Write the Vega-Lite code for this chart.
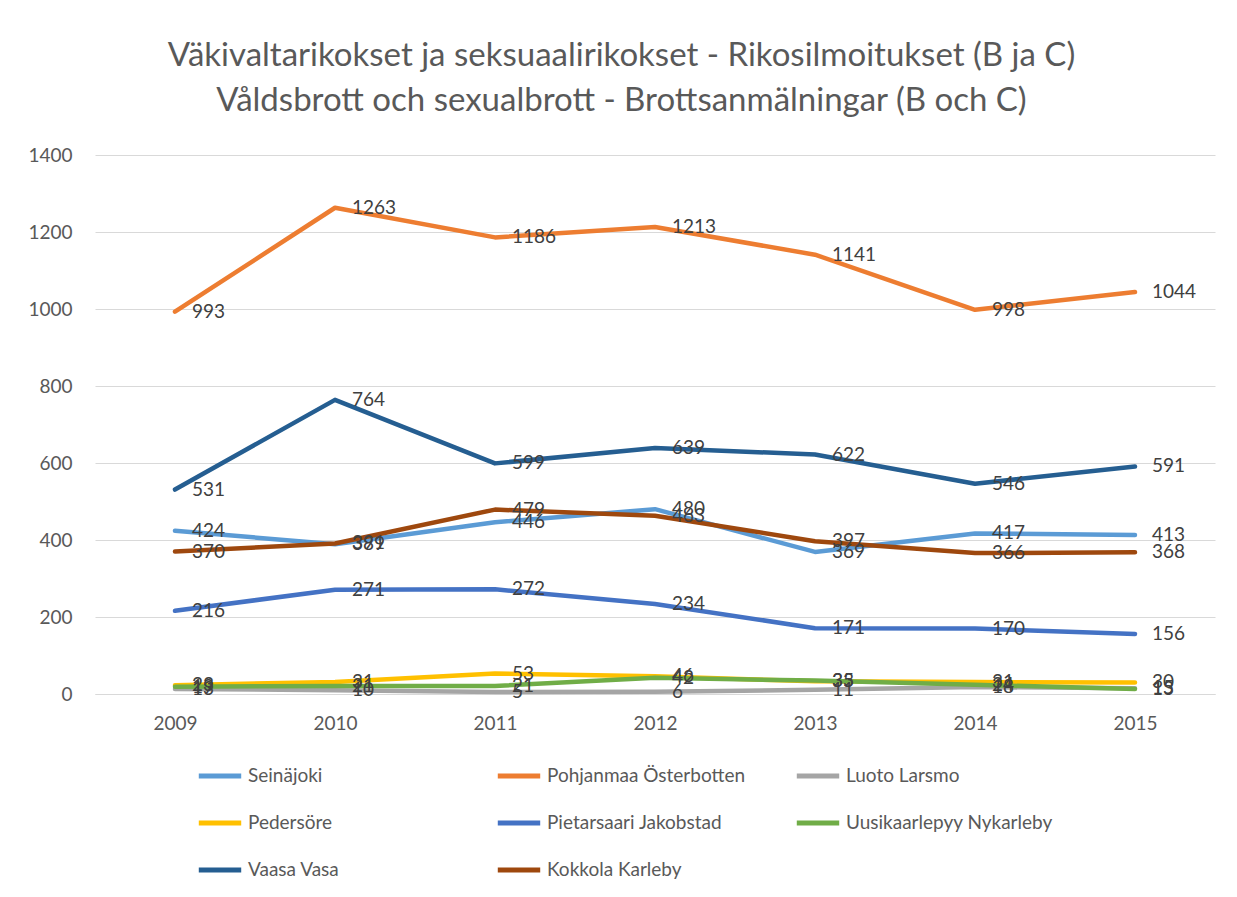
{
  "$schema": "https://vega.github.io/schema/vega-lite/v6.json",
  "autosize": {"type": "none"},
  "width": 1120,
  "height": 539,
  "padding": {"left": 95, "top": 155, "right": 22, "bottom": 203},
  "background": "white",
  "title": {
    "text": ["Väkivaltarikokset ja seksuaalirikokset - Rikosilmoitukset (B ja C)", "Våldsbrott och sexualbrott - Brottsanmälningar (B och C)"],
    "font": "Lato",
    "fontSize": 33,
    "fontWeight": "normal",
    "color": "#595959",
    "lineHeight": 45,
    "anchor": "middle",
    "frame": "bounds",
    "offset": 28
  },
  "config": {
    "view": {"stroke": null},
    "font": "Lato"
  },
  "data": {
    "values": [
      {"year": "2009", "series": "Seinäjoki", "value": 424},
      {"year": "2010", "series": "Seinäjoki", "value": 389},
      {"year": "2011", "series": "Seinäjoki", "value": 446},
      {"year": "2012", "series": "Seinäjoki", "value": 480},
      {"year": "2013", "series": "Seinäjoki", "value": 369},
      {"year": "2014", "series": "Seinäjoki", "value": 417},
      {"year": "2015", "series": "Seinäjoki", "value": 413},
      {"year": "2009", "series": "Pohjanmaa Österbotten", "value": 993},
      {"year": "2010", "series": "Pohjanmaa Österbotten", "value": 1263},
      {"year": "2011", "series": "Pohjanmaa Österbotten", "value": 1186},
      {"year": "2012", "series": "Pohjanmaa Österbotten", "value": 1213},
      {"year": "2013", "series": "Pohjanmaa Österbotten", "value": 1141},
      {"year": "2014", "series": "Pohjanmaa Österbotten", "value": 998},
      {"year": "2015", "series": "Pohjanmaa Österbotten", "value": 1044},
      {"year": "2009", "series": "Luoto Larsmo", "value": 13},
      {"year": "2010", "series": "Luoto Larsmo", "value": 10},
      {"year": "2011", "series": "Luoto Larsmo", "value": 5},
      {"year": "2012", "series": "Luoto Larsmo", "value": 6},
      {"year": "2013", "series": "Luoto Larsmo", "value": 11},
      {"year": "2014", "series": "Luoto Larsmo", "value": 18},
      {"year": "2015", "series": "Luoto Larsmo", "value": 15},
      {"year": "2009", "series": "Pedersöre", "value": 23},
      {"year": "2010", "series": "Pedersöre", "value": 31},
      {"year": "2011", "series": "Pedersöre", "value": 53},
      {"year": "2012", "series": "Pedersöre", "value": 46},
      {"year": "2013", "series": "Pedersöre", "value": 33},
      {"year": "2014", "series": "Pedersöre", "value": 31},
      {"year": "2015", "series": "Pedersöre", "value": 30},
      {"year": "2009", "series": "Pietarsaari Jakobstad", "value": 216},
      {"year": "2010", "series": "Pietarsaari Jakobstad", "value": 271},
      {"year": "2011", "series": "Pietarsaari Jakobstad", "value": 272},
      {"year": "2012", "series": "Pietarsaari Jakobstad", "value": 234},
      {"year": "2013", "series": "Pietarsaari Jakobstad", "value": 171},
      {"year": "2014", "series": "Pietarsaari Jakobstad", "value": 170},
      {"year": "2015", "series": "Pietarsaari Jakobstad", "value": 156},
      {"year": "2009", "series": "Uusikaarlepyy Nykarleby", "value": 19},
      {"year": "2010", "series": "Uusikaarlepyy Nykarleby", "value": 21},
      {"year": "2011", "series": "Uusikaarlepyy Nykarleby", "value": 21},
      {"year": "2012", "series": "Uusikaarlepyy Nykarleby", "value": 42},
      {"year": "2013", "series": "Uusikaarlepyy Nykarleby", "value": 35},
      {"year": "2014", "series": "Uusikaarlepyy Nykarleby", "value": 24},
      {"year": "2015", "series": "Uusikaarlepyy Nykarleby", "value": 13},
      {"year": "2009", "series": "Vaasa Vasa", "value": 531},
      {"year": "2010", "series": "Vaasa Vasa", "value": 764},
      {"year": "2011", "series": "Vaasa Vasa", "value": 599},
      {"year": "2012", "series": "Vaasa Vasa", "value": 639},
      {"year": "2013", "series": "Vaasa Vasa", "value": 622},
      {"year": "2014", "series": "Vaasa Vasa", "value": 546},
      {"year": "2015", "series": "Vaasa Vasa", "value": 591},
      {"year": "2009", "series": "Kokkola Karleby", "value": 370},
      {"year": "2010", "series": "Kokkola Karleby", "value": 391},
      {"year": "2011", "series": "Kokkola Karleby", "value": 479},
      {"year": "2012", "series": "Kokkola Karleby", "value": 463},
      {"year": "2013", "series": "Kokkola Karleby", "value": 397},
      {"year": "2014", "series": "Kokkola Karleby", "value": 366},
      {"year": "2015", "series": "Kokkola Karleby", "value": 368}
    ]
  },
  "encoding": {
    "x": {
      "field": "year",
      "type": "ordinal",
      "scale": {"type": "point", "padding": 0.5},
      "axis": {
        "title": null,
        "labelAngle": 0,
        "labelFontSize": 19,
        "labelColor": "#595959",
        "labelPadding": 20,
        "ticks": false,
        "domainColor": "#d9d9d9",
        "domainWidth": 1,
        "grid": false
      }
    },
    "y": {
      "field": "value",
      "type": "quantitative",
      "scale": {"domain": [0, 1400], "nice": false},
      "axis": {
        "title": null,
        "values": [0, 200, 400, 600, 800, 1000, 1200, 1400],
        "format": "d",
        "labelFontSize": 19,
        "labelColor": "#595959",
        "labelPadding": 23,
        "ticks": false,
        "domain": false,
        "gridColor": "#d9d9d9",
        "gridWidth": 1.2
      }
    }
  },
  "layer": [
    {
      "mark": {"type": "line", "strokeWidth": 4.5, "strokeCap": "round", "strokeJoin": "round"},
      "encoding": {
        "color": {
          "field": "series",
          "type": "nominal",
          "scale": {
            "domain": ["Seinäjoki", "Pohjanmaa Österbotten", "Luoto Larsmo", "Pedersöre", "Pietarsaari Jakobstad", "Uusikaarlepyy Nykarleby", "Vaasa Vasa", "Kokkola Karleby"],
            "range": ["#5B9BD5", "#ED7D31", "#A5A5A5", "#FFC000", "#4472C4", "#70AD47", "#255E91", "#9E480E"]
          },
          "legend": {
            "title": null,
            "orient": "none",
            "legendX": 101,
            "legendY": 597,
            "direction": "horizontal",
            "columns": 3,
            "gridAlign": "all",
            "columnPadding": 32,
            "rowPadding": 13,
            "symbolType": "stroke",
            "symbolStrokeWidth": 5,
            "symbolSize": 1800,
            "labelFontSize": 19,
            "labelColor": "#595959",
            "labelOffset": 4,
            "labelLimit": 400
          }
        }
      }
    },
    {
      "mark": {"type": "text", "align": "left", "baseline": "middle", "dx": 17, "fontSize": 19, "color": "#404040"},
      "encoding": {
        "text": {"field": "value", "type": "quantitative"}
      }
    }
  ]
}
